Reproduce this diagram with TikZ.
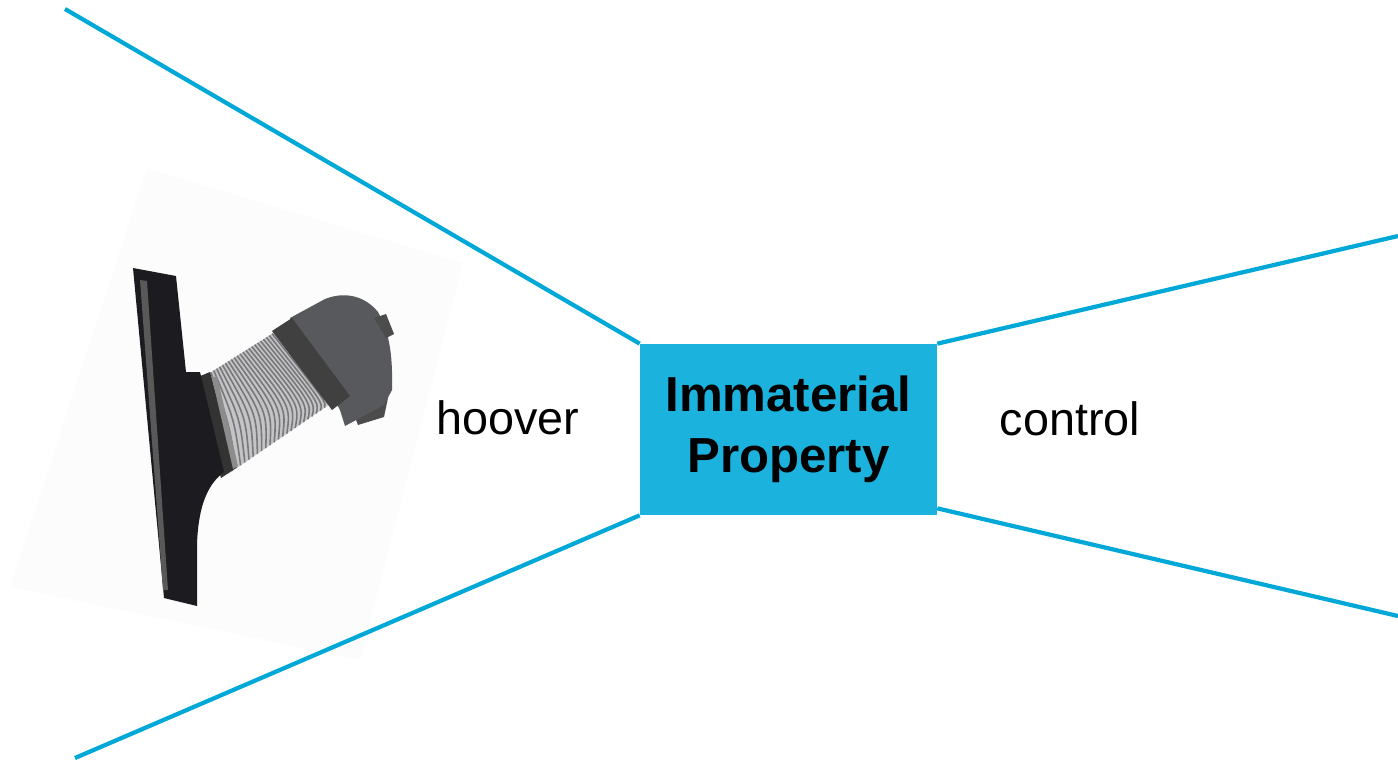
\documentclass[tikz,border=0pt]{standalone}
\usepackage{fontspec}
\setmainfont{Liberation Sans}
\usetikzlibrary{calc}
\definecolor{boxblue}{RGB}{27,178,222}
\definecolor{lineblue}{RGB}{0,168,216}
\definecolor{platedark}{RGB}{28,28,32}
\definecolor{hosegray}{RGB}{196,196,198}
\definecolor{ribgray}{RGB}{120,120,124}
\definecolor{cyl}{RGB}{88,89,93}
\begin{document}
\begin{tikzpicture}[x=0.02cm,y=-0.02cm,
    link/.style={lineblue, line width=2.4pt},
    rib/.style={ribgray, line width=0.9pt}]
    \useasboundingbox (0,0) rectangle (1398,761);

    % photo of the nozzle
    \fill[black!1] (147,168) -- (463,263) -- (360,660) -- (10,587) -- cycle;
    \coordinate (ha) at (205,376);
    \coordinate (hb) at (278,330);
    \coordinate (hc) at (333,402);
    \coordinate (hd) at (228,474);
    \fill[hosegray] (ha) -- (hb) -- (hc) -- (hd) -- cycle;
    \foreach \t in {0.04,0.08,...,0.97}
      \draw[rib] ($(ha)!\t!(hb)$) .. controls ($(ha)!\t!(hb)!0.5!(hd)!\t!(hc)$) .. ($(hd)!\t!(hc)$);
    \fill[black!80] (193,379) -- (210,372) -- (236,468) -- (221,478) -- cycle;
    \fill[black!45] (212,378) -- (217,376) -- (238,466) -- (233,469) -- cycle;
    \fill[black!70] (352,410) -- (388,398) -- (384,417) -- (358,425) -- cycle;
    \fill[cyl] (290,318) -- (325,299) .. controls (345,291) and (365,296) .. (378,312)
      .. controls (388,330) and (393,350) .. (392,390) -- (384,405) -- (345,426) -- (340,410) -- cycle;
    \fill[black!75] (272,331) -- (292,318) -- (350,396) -- (332,410) -- cycle;
    \fill[black!70] (374,318) -- (386,314) -- (394,334) -- (386,338) -- cycle;
    \fill[platedark] (133,268) -- (176,276) -- (186,372) -- (200,372) -- (224,472)
      .. controls (205,486) and (198,512) .. (197,545) -- (197,606) -- (164,598) -- cycle;
    \fill[black!65] (140,280) -- (147,281) -- (168,590) -- (163,590) -- cycle;

    % box and labels
    \node (ip) at (788.5,429.5) [fill=boxblue, minimum width=5.94cm, minimum height=3.42cm,
      align=center, font=\fontsize{28}{34.6}\selectfont\bfseries] {\raisebox{-0.12cm}{Immaterial}\\\raisebox{-0.12cm}{Property}};
    \node (hoover) at (508,434) [anchor=base, font=\fontsize{26.6}{30}\selectfont] {hoover};
    \node (ctrl) at (1070,435) [anchor=base, font=\fontsize{26.6}{30}\selectfont] {control};

    \coordinate (tl) at (65,9);
    \coordinate (bl) at (75,758);
    \coordinate (tr) at (1398,236);
    \coordinate (br) at (1398,616);
    \draw[link] (tl) -- (ip.north west);
    \draw[link] (bl) -- (ip.south west);
    \draw[link] (ip.north east) -- (tr);
    \draw[link] ([yshift=0.14cm]ip.south east) -- (br);
\end{tikzpicture}
\end{document}
